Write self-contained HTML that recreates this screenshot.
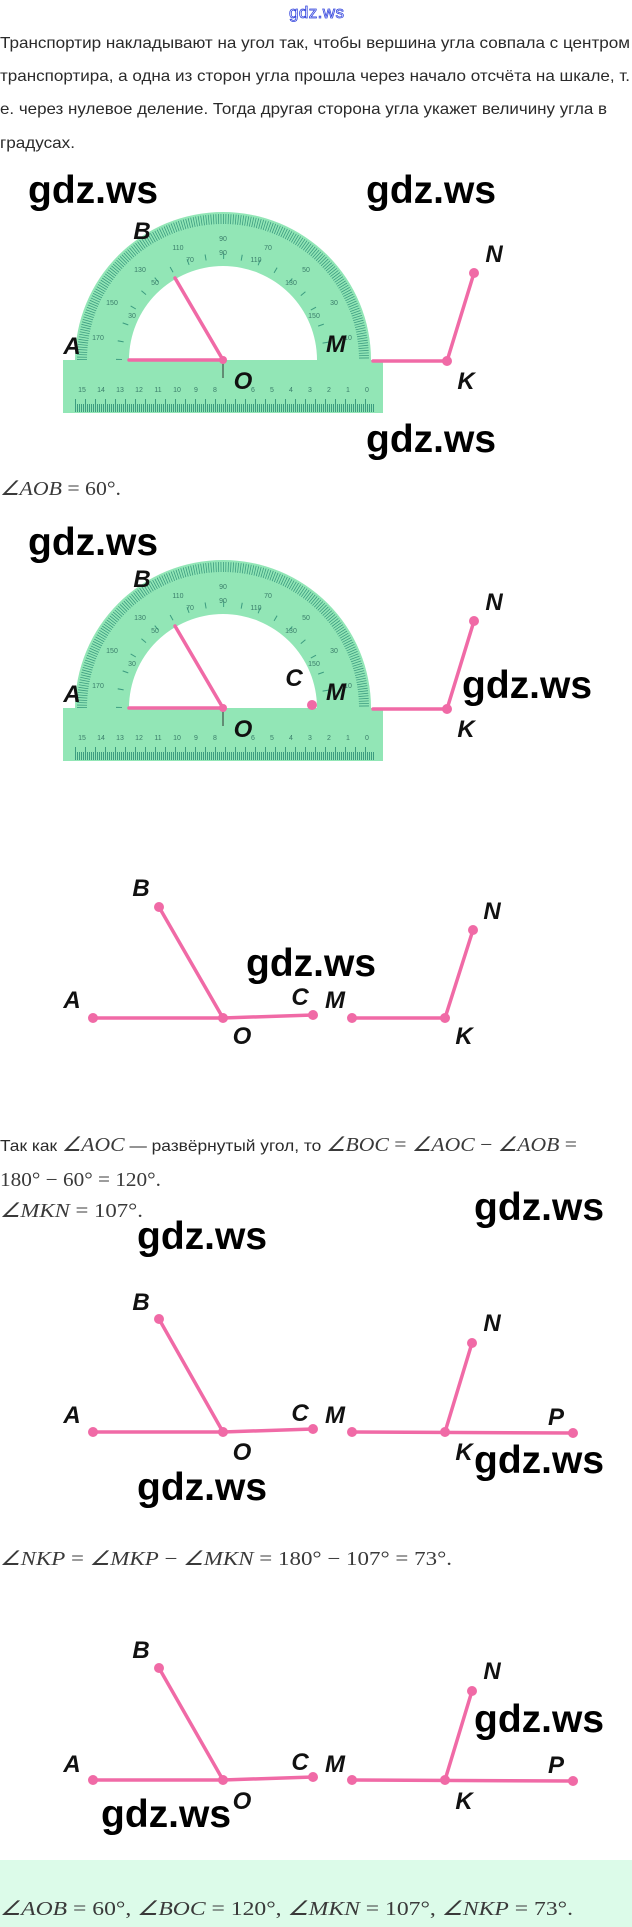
<!DOCTYPE html>
<html><head><meta charset="utf-8"><style>
html,body{margin:0;padding:0;background:#fff;}
svg{display:block;}
.t{font-family:"Liberation Sans",sans-serif;font-size:16px;fill:#2a2a2a;}
.m{font-family:"Liberation Serif",serif;font-size:20px;fill:#3a3a3a;}
.mi{font-style:italic;}
.w{font-family:"Liberation Sans",sans-serif;font-size:39px;font-weight:bold;fill:#000;}
.l{font-family:"Liberation Sans",sans-serif;font-size:24px;font-weight:bold;font-style:italic;fill:#111;text-anchor:middle;}
.p{stroke:#f06aa6;stroke-width:3.5;fill:none;stroke-linecap:round;}
.d{fill:#f06aa6;}
.rn{font-family:"Liberation Sans",sans-serif;font-size:7px;fill:#3a7d6a;text-anchor:middle;}
</style></head><body>
<svg width="632" height="1927" viewBox="0 0 632 1927" xmlns="http://www.w3.org/2000/svg">
<defs>
<clipPath id="top"><rect x="0" y="0" width="632" height="360"/></clipPath>
<g id="prot">
  <path d="M75,360 A148,148 0 0 1 371,360 L317,360 A94,94 0 0 0 129,360 Z" fill="#92e6b6"/>
  <g clip-path="url(#top)">
    <circle cx="223" cy="360" r="141" fill="none" stroke="#3c9c80" stroke-width="10" stroke-dasharray="0.8 1.66"/>
    <circle cx="223" cy="360" r="104" fill="none" stroke="#3c9c80" stroke-width="6" stroke-dasharray="1 17.15"/>
  </g>
  <g class="rn">
    <text x="223" y="241">90</text><text x="223" y="255">90</text>
    <text x="178" y="250">110</text><text x="268" y="250">70</text>
    <text x="140" y="272">130</text><text x="306" y="272">50</text>
    <text x="112" y="305">150</text><text x="334" y="305">30</text>
    <text x="98" y="340">170</text><text x="348" y="340">10</text>
    <text x="190" y="262">70</text><text x="256" y="262">110</text>
    <text x="155" y="285">50</text><text x="291" y="285">130</text>
    <text x="132" y="318">30</text><text x="314" y="318">150</text>
  </g>
  <rect x="63" y="360" width="320" height="53" fill="#92e6b6"/>
  <line x1="75" y1="408" x2="375" y2="408" stroke="#3c9c80" stroke-width="8" stroke-dasharray="1 1"/>
  <line x1="75" y1="402" x2="375" y2="402" stroke="#3c9c80" stroke-width="6" stroke-dasharray="1 9"/>
  <g class="rn">
    <text x="82" y="392">15</text><text x="101" y="392">14</text><text x="120" y="392">13</text><text x="139" y="392">12</text><text x="158" y="392">11</text><text x="177" y="392">10</text><text x="196" y="392">9</text><text x="215" y="392">8</text><text x="253" y="392">6</text><text x="272" y="392">5</text><text x="291" y="392">4</text><text x="310" y="392">3</text><text x="329" y="392">2</text><text x="348" y="392">1</text><text x="367" y="392">0</text>
  </g>
  <line x1="223" y1="360" x2="223" y2="378" stroke="#333" stroke-width="1"/>
</g>
</defs>

<text x="289" y="18" font-family="Liberation Sans,sans-serif" font-size="17" fill="#fff" stroke="#3344dd" stroke-width="0.8" textLength="55">gdz.ws</text>

<text class="t" x="0" y="48" textLength="630" lengthAdjust="spacingAndGlyphs">Транспортир накладывают на угол так, чтобы вершина угла совпала с центром</text>
<text class="t" x="0" y="81" textLength="630" lengthAdjust="spacingAndGlyphs">транспортира, а одна из сторон угла прошла через начало отсчёта на шкале, т.</text>
<text class="t" x="0" y="114" textLength="607" lengthAdjust="spacingAndGlyphs">е. через нулевое деление. Тогда другая сторона угла укажет величину угла в</text>
<text class="t" x="0" y="148" textLength="75" lengthAdjust="spacingAndGlyphs">градусах.</text>

<!-- Figure 1 -->
<use href="#prot"/>
<line class="p" x1="129" y1="360" x2="223" y2="360"/>
<line class="p" x1="223" y1="360" x2="175" y2="278"/>
<polyline class="p" points="373,361 447,361 474,273"/>
<circle class="d" cx="223" cy="360" r="4"/><circle class="d" cx="447" cy="361" r="5"/><circle class="d" cx="474" cy="273" r="5"/>
<text class="l" x="72" y="354">A</text><text class="l" x="142" y="239">B</text><text class="l" x="336" y="352">M</text>
<text class="l" x="494" y="262">N</text><text class="l" x="466" y="389">K</text><text class="l" x="243" y="389">O</text>
<text class="w" x="28" y="203">gdz.ws</text><text class="w" x="366" y="203">gdz.ws</text><text class="w" x="366" y="452">gdz.ws</text>

<text class="m" x="0" y="495" textLength="121" lengthAdjust="spacingAndGlyphs"><tspan class="mi">∠AOB</tspan> = 60°.</text>

<!-- Figure 2 -->
<g transform="translate(0,348)">
<use href="#prot"/>
<line class="p" x1="129" y1="360" x2="223" y2="360"/>
<line class="p" x1="223" y1="360" x2="175" y2="278"/>
<polyline class="p" points="373,361 447,361 474,273"/>
<circle class="d" cx="223" cy="360" r="4"/><circle class="d" cx="312" cy="357" r="5"/><circle class="d" cx="447" cy="361" r="5"/><circle class="d" cx="474" cy="273" r="5"/>
<text class="l" x="72" y="354">A</text><text class="l" x="142" y="239">B</text><text class="l" x="336" y="352">M</text><text class="l" x="294" y="338">C</text>
<text class="l" x="494" y="262">N</text><text class="l" x="466" y="389">K</text><text class="l" x="243" y="389">O</text>
</g>
<text class="w" x="28" y="555">gdz.ws</text><text class="w" x="462" y="698">gdz.ws</text>

<!-- Figure 3 -->
<polyline class="p" points="93,1018 223,1018 313,1015"/>
<line class="p" x1="223" y1="1018" x2="159" y2="907"/>
<polyline class="p" points="352,1018 445,1018 473,930"/>
<g class="d"><circle cx="93" cy="1018" r="5"/><circle cx="223" cy="1018" r="5"/><circle cx="313" cy="1015" r="5"/><circle cx="159" cy="907" r="5"/><circle cx="352" cy="1018" r="5"/><circle cx="445" cy="1018" r="5"/><circle cx="473" cy="930" r="5"/></g>
<text class="l" x="72" y="1008">A</text><text class="l" x="141" y="896">B</text><text class="l" x="300" y="1005">C</text><text class="l" x="335" y="1008">M</text>
<text class="l" x="492" y="919">N</text><text class="l" x="242" y="1044">O</text><text class="l" x="464" y="1044">K</text>
<text class="w" x="246" y="976">gdz.ws</text>

<text class="t" x="0" y="1151" textLength="577" lengthAdjust="spacingAndGlyphs">Так как <tspan class="m mi">∠AOC</tspan> — развёрнутый угол, то <tspan class="m"><tspan class="mi">∠BOC</tspan> = <tspan class="mi">∠AOC</tspan> − <tspan class="mi">∠AOB</tspan> =</tspan></text>
<text class="m" x="0" y="1186" textLength="161" lengthAdjust="spacingAndGlyphs">180° − 60° = 120°.</text>
<text class="m" x="0" y="1217" textLength="143" lengthAdjust="spacingAndGlyphs"><tspan class="mi">∠MKN</tspan> = 107°.</text>
<text class="w" x="474" y="1220">gdz.ws</text><text class="w" x="137" y="1249">gdz.ws</text>

<!-- Figure 4 -->
<polyline class="p" points="93,1432 223,1432 313,1429"/>
<line class="p" x1="223" y1="1432" x2="159" y2="1319"/>
<polyline class="p" points="352,1432 573,1433"/>
<line class="p" x1="445" y1="1432" x2="472" y2="1343"/>
<g class="d"><circle cx="93" cy="1432" r="5"/><circle cx="223" cy="1432" r="5"/><circle cx="313" cy="1429" r="5"/><circle cx="159" cy="1319" r="5"/><circle cx="352" cy="1432" r="5"/><circle cx="445" cy="1432" r="5"/><circle cx="472" cy="1343" r="5"/><circle cx="573" cy="1433" r="5"/></g>
<text class="l" x="72" y="1423">A</text><text class="l" x="141" y="1310">B</text><text class="l" x="300" y="1421">C</text><text class="l" x="335" y="1423">M</text>
<text class="l" x="492" y="1331">N</text><text class="l" x="556" y="1425">P</text><text class="l" x="242" y="1460">O</text><text class="l" x="464" y="1460">K</text>
<text class="w" x="474" y="1473">gdz.ws</text><text class="w" x="137" y="1500">gdz.ws</text>

<text class="m" x="0" y="1565" textLength="452" lengthAdjust="spacingAndGlyphs"><tspan class="mi">∠NKP</tspan> = <tspan class="mi">∠MKP</tspan> − <tspan class="mi">∠MKN</tspan> = 180° − 107° = 73°.</text>

<!-- Figure 5 -->
<polyline class="p" points="93,1780 223,1780 313,1777"/>
<line class="p" x1="223" y1="1780" x2="159" y2="1668"/>
<polyline class="p" points="352,1780 573,1781"/>
<line class="p" x1="445" y1="1780" x2="472" y2="1691"/>
<g class="d"><circle cx="93" cy="1780" r="5"/><circle cx="223" cy="1780" r="5"/><circle cx="313" cy="1777" r="5"/><circle cx="159" cy="1668" r="5"/><circle cx="352" cy="1780" r="5"/><circle cx="445" cy="1780" r="5"/><circle cx="472" cy="1691" r="5"/><circle cx="573" cy="1781" r="5"/></g>
<text class="l" x="72" y="1772">A</text><text class="l" x="141" y="1658">B</text><text class="l" x="300" y="1770">C</text><text class="l" x="335" y="1772">M</text>
<text class="l" x="492" y="1679">N</text><text class="l" x="556" y="1773">P</text><text class="l" x="242" y="1809">O</text><text class="l" x="464" y="1809">K</text>
<text class="w" x="474" y="1732">gdz.ws</text><text class="w" x="101" y="1827">gdz.ws</text>

<rect x="0" y="1860" width="632" height="67" fill="#dcfbe9"/>
<text class="m" x="0" y="1915" textLength="573" lengthAdjust="spacingAndGlyphs"><tspan class="mi">∠AOB</tspan> = 60°, <tspan class="mi">∠BOC</tspan> = 120°, <tspan class="mi">∠MKN</tspan> = 107°, <tspan class="mi">∠NKP</tspan> = 73°.</text>
</svg>
</body></html>
